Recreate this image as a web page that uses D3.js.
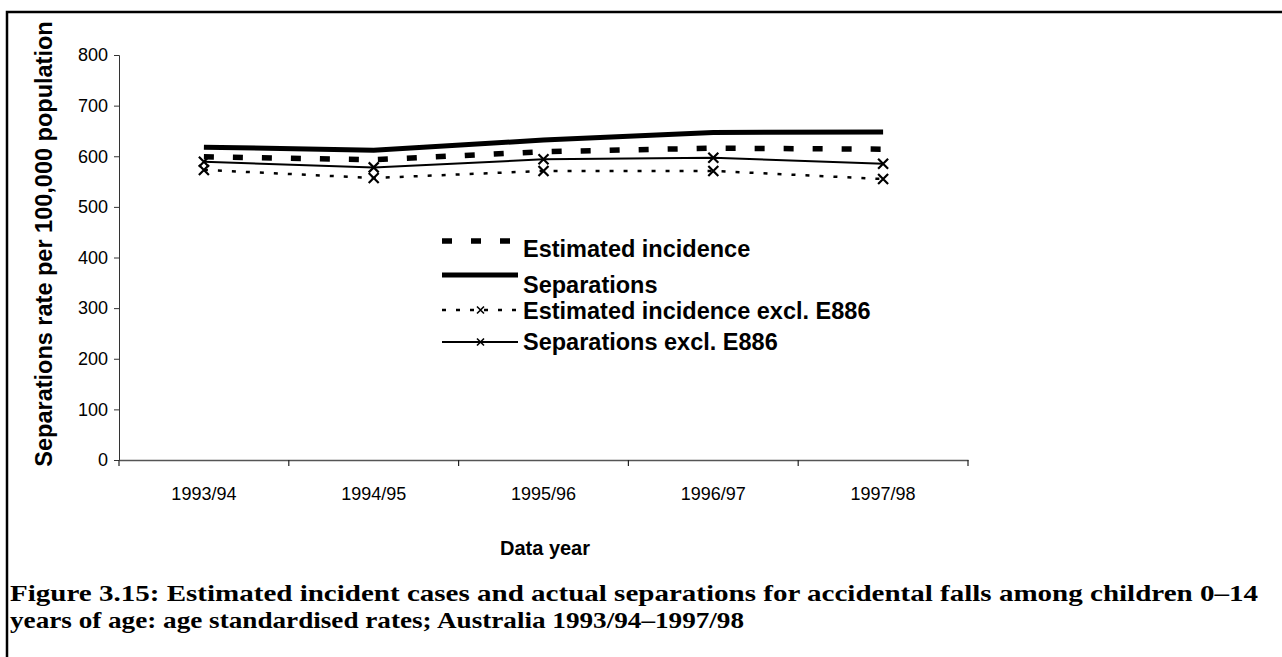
<!DOCTYPE html>
<html>
<head>
<script src="https://d3js.org/d3.v7.min.js"></script>
<style>
  body { margin: 0; background: #fff; }
  svg { display: block; }
</style>
</head>
<body>
<svg id="viz"></svg>
<script>
// data
var years = ["1993/94", "1994/95", "1995/96", "1996/97", "1997/98"];
var estIncidence = [599, 593, 609, 616, 614];
var separations = [618, 612, 632, 647, 648];
var estIncidenceExcl = [573, 557, 571, 571, 555];
var separationsExcl = [589, 578, 594, 597, 585];
var yTicks = [0, 100, 200, 300, 400, 500, 600, 700, 800];
var seriesNames = ["Estimated incidence", "Separations", "Estimated incidence excl. E886", "Separations excl. E886"];

var width = 1282, height = 657;
var sans = "Liberation Sans, Arial, sans-serif";
var svg = d3.select("#viz").attr("width", width).attr("height", height);

// outer frame (right and bottom run off the page)
svg.append("rect")
  .attr("x", 7).attr("y", 12)
  .attr("width", 1300).attr("height", 700)
  .attr("fill", "none").attr("stroke", "#000").attr("stroke-width", 2.5);

var x = d3.scaleBand().domain(years).range([119, 968]);
var y = d3.scaleLinear().domain([0, 800]).range([460, 55]);
var cx = function(d, i) { return x(years[i]) + x.bandwidth() / 2; };

// y axis
var yAxis = svg.append("g")
  .attr("transform", "translate(119,0)")
  .call(d3.axisLeft(y).tickValues(yTicks).tickSize(5).tickPadding(6));
yAxis.select(".domain").attr("stroke", "#333");
yAxis.selectAll(".tick line").attr("stroke", "#333");
yAxis.selectAll("text").attr("font-family", sans)
  .attr("font-size", 18).attr("fill", "#000");

// x axis
var xAxis = svg.append("g")
  .attr("transform", "translate(0,460)")
  .call(d3.axisBottom(x).tickSizeOuter(0).tickSize(0).tickPadding(27));
xAxis.select(".domain").attr("stroke", "#555").attr("stroke-width", 1.6);
xAxis.selectAll("text").attr("font-family", sans)
  .attr("font-size", 18).attr("fill", "#000");
// tick marks sit between categories
var bounds = years.map(function(d) { return x(d); }).concat([x(years[years.length - 1]) + x.bandwidth()]);
svg.append("g").selectAll("line").data(bounds).join("line")
  .attr("x1", function(d) { return d; }).attr("x2", function(d) { return d; })
  .attr("y1", 460).attr("y2", 466)
  .attr("stroke", "#222").attr("stroke-width", 1.2);

// axis titles
svg.append("text")
  .attr("transform", "translate(52,244) rotate(-90)")
  .attr("text-anchor", "middle")
  .attr("font-family", sans)
  .attr("font-weight", "bold").attr("font-size", 23.5)
  .text("Separations rate per 100,000 population");
svg.append("text")
  .attr("x", 545).attr("y", 555)
  .attr("text-anchor", "middle")
  .attr("font-family", sans)
  .attr("font-weight", "bold").attr("font-size", 20)
  .text("Data year");

var line = d3.line().x(cx).y(function(d) { return y(d); });
var styles = [
  { data: estIncidence, w: 5.5, dash: "10,19", marker: false },
  { data: separations, w: 5, dash: null, marker: false },
  { data: estIncidenceExcl, w: 2.5, dash: "4,10", marker: true },
  { data: separationsExcl, w: 2, dash: null, marker: true }
];

var plot = svg.append("g");
styles.forEach(function(s) {
  plot.append("path")
    .attr("d", line(s.data))
    .attr("fill", "none").attr("stroke", "#000")
    .attr("stroke-width", s.w)
    .attr("stroke-dasharray", s.dash);
  if (s.marker) {
    plot.append("g").selectAll("path").data(s.data).join("path")
      .attr("d", function(d, i) {
        var px = cx(d, i), py = y(d), r = 5;
        return "M" + (px - r) + "," + (py - r) + "L" + (px + r) + "," + (py + r) +
               "M" + (px - r) + "," + (py + r) + "L" + (px + r) + "," + (py - r);
      })
      .attr("stroke", "#000").attr("stroke-width", 2.2);
  }
});

// legend
var legend = svg.append("g");
var rowY = [241, 275, 310, 342];
var textY = [257, 293, 319, 350];
styles.forEach(function(s, i) {
  var g = legend.append("g");
  g.append("line")
    .attr("x1", 442).attr("x2", i === 0 ? 510 : 518)
    .attr("y1", rowY[i]).attr("y2", rowY[i])
    .attr("stroke", "#000").attr("stroke-width", s.w)
    .attr("stroke-dasharray", s.dash);
  if (s.marker) {
    var m = rowY[i];
    g.append("path")
      .attr("d", "M477," + (m - 3.5) + "L484," + (m + 3.5) + "M477," + (m + 3.5) + "L484," + (m - 3.5))
      .attr("stroke", "#000").attr("stroke-width", 1.6);
  }
  g.append("text")
    .attr("x", 523).attr("y", textY[i])
    .attr("font-family", sans)
    .attr("font-weight", "bold").attr("font-size", 23.5)
    .text(seriesNames[i]);
});

// caption
var caption = [
  "Figure 3.15: Estimated incident cases and actual separations for accidental falls among children 0\u201314",
  "years of age: age standardised rates; Australia 1993/94\u20131997/98"
];
svg.append("g").selectAll("text").data(caption).join("text")
  .attr("x", 10).attr("y", function(d, i) { return 601 + i * 27; })
  .attr("font-family", "Liberation Serif, DejaVu Serif, serif")
  .attr("font-weight", "bold").attr("font-size", 24)
  .attr("textLength", function(d, i) { return i === 0 ? 1248 : 734; })
  .attr("lengthAdjust", "spacingAndGlyphs")
  .text(function(d) { return d; });
</script>
</body>
</html>
